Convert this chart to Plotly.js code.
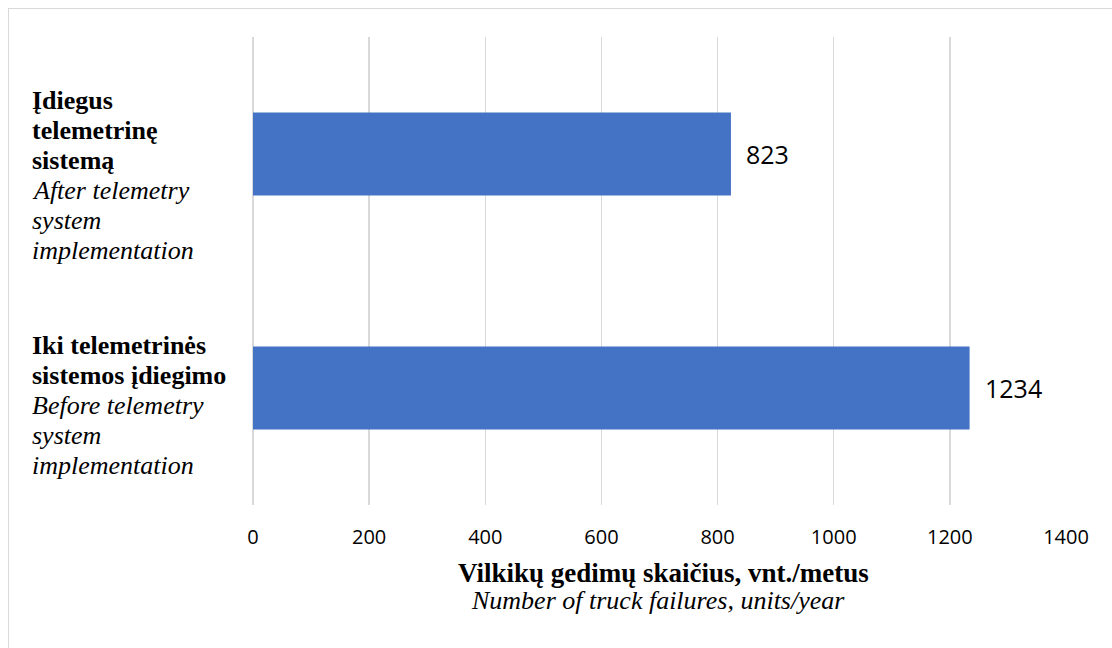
<!DOCTYPE html>
<html>
<head>
<meta charset="utf-8">
<script src="https://cdn.plot.ly/plotly-3.0.1.min.js"></script>
<style>
  html, body { margin: 0; padding: 0; background: #ffffff; overflow: hidden; }
  #wrap { position: relative; width: 1112px; height: 648px; }
  #chart { width: 1112px; height: 648px; }
  #frame {
    position: absolute; left: 8px; top: 8px; right: -10px; bottom: -10px;
    border: 1.5px solid #d9d9d9; pointer-events: none; box-sizing: border-box;
  }
</style>
</head>
<body>
<div id="wrap">
  <div id="chart"></div>
  <div id="frame"></div>
</div>
<script>
// Truck failures per year, before and after the telemetry system
const categories = ['before', 'after'];
const failures = [1234, 823];
const labelsLt = [['Iki telemetrinės', 'sistemos įdiegimo'], ['Įdiegus', 'telemetrinę', 'sistemą']];
const labelsEn = [['Before telemetry', 'system', 'implementation'], ['After telemetry', 'system', 'implementation']];
const tickValues = [0, 200, 400, 600, 800, 1000, 1200, 1400];
const axisTitleLt = 'Vilkikų gedimų skaičius, vnt./metus';
const axisTitleEn = 'Number of truck failures, units/year';

const barColor = '#4472C4';
const gridColor = '#d9d9d9';
const serif = 'Liberation Serif, Times New Roman, serif';
const sans = 'Open Sans, sans-serif';

// text layout for the category blocks (pixels)
const labelSize = 26;
const lineStep = 30;
const blockDrop = [17.7, 21.7];   // how far each block sits below its bar centre
const labelX = -0.2735;            // paper x of the block's left edge

const trace = {
  type: 'bar',
  orientation: 'h',
  y: categories,
  x: failures,
  marker: { color: barColor },
  hoverinfo: 'none'
};

// category labels on the left: bold Lithuanian lines, then italic English lines
const categoryNotes = [];
categories.forEach((c, i) => {
  const lines = labelsLt[i].map(t => '<b>' + t + '</b>')
    .concat(labelsEn[i].map(t => '<i>' + t + '</i>'));
  const n = lines.length;
  lines.forEach((t, k) => {
    categoryNotes.push({
      xref: 'paper', yref: 'y',
      x: labelX, y: c,
      xanchor: 'left', yanchor: 'middle', align: 'left',
      yshift: -blockDrop[i] + ((n - 1) / 2 - k) * lineStep,
      showarrow: false,
      borderpad: 0,
      text: t,
      font: { family: serif, size: labelSize, color: '#000000' }
    });
  });
});

// value labels just past the end of each bar
const valueNotes = categories.map((c, i) => ({
  xref: 'x', yref: 'y',
  x: failures[i], y: c,
  xanchor: 'left', yanchor: 'middle',
  xshift: 13,
  showarrow: false,
  text: String(failures[i]),
  font: { family: sans, size: 25, color: '#000000' }
}));

// axis title below the tick labels: bold Lithuanian over italic English
const titleNotes = [
  { text: '<b>' + axisTitleLt + '</b>', yshift: -68, xshift: 4, size: 27 },
  { text: '<i>' + axisTitleEn + '</i>', yshift: -95, xshift: -2, size: 26 }
].map(d => ({
  xref: 'paper', yref: 'paper',
  x: 0.5, y: 0,
  xanchor: 'center', yanchor: 'middle',
  xshift: d.xshift, yshift: d.yshift,
  showarrow: false,
  borderpad: 0,
  text: d.text,
  font: { family: serif, size: d.size, color: '#000000' }
}));

const layout = {
  width: 1112,
  height: 648,
  margin: { l: 253, r: 46, t: 37, b: 143, pad: 0 },
  paper_bgcolor: '#ffffff',
  plot_bgcolor: '#ffffff',
  showlegend: false,
  bargap: 0.645,
  xaxis: {
    range: [0, 1400],
    tickvals: tickValues,
    ticktext: tickValues.map(String),
    showgrid: true,
    gridcolor: gridColor,
    gridwidth: 1.5,
    zeroline: true,
    zerolinecolor: gridColor,
    zerolinewidth: 1.5,
    showline: false,
    ticks: 'outside',
    ticklen: 14,
    tickcolor: 'rgba(0,0,0,0)',
    tickfont: { family: sans, size: 20, color: '#000000' },
    fixedrange: true,
    automargin: false
  },
  yaxis: {
    categoryorder: 'array',
    categoryarray: categories,
    showticklabels: false,
    showgrid: false,
    zeroline: false,
    showline: false,
    ticks: '',
    fixedrange: true,
    automargin: false
  },
  annotations: categoryNotes.concat(valueNotes, titleNotes)
};

Plotly.newPlot('chart', [trace], layout, { displayModeBar: false, staticPlot: true });
</script>
</body>
</html>
